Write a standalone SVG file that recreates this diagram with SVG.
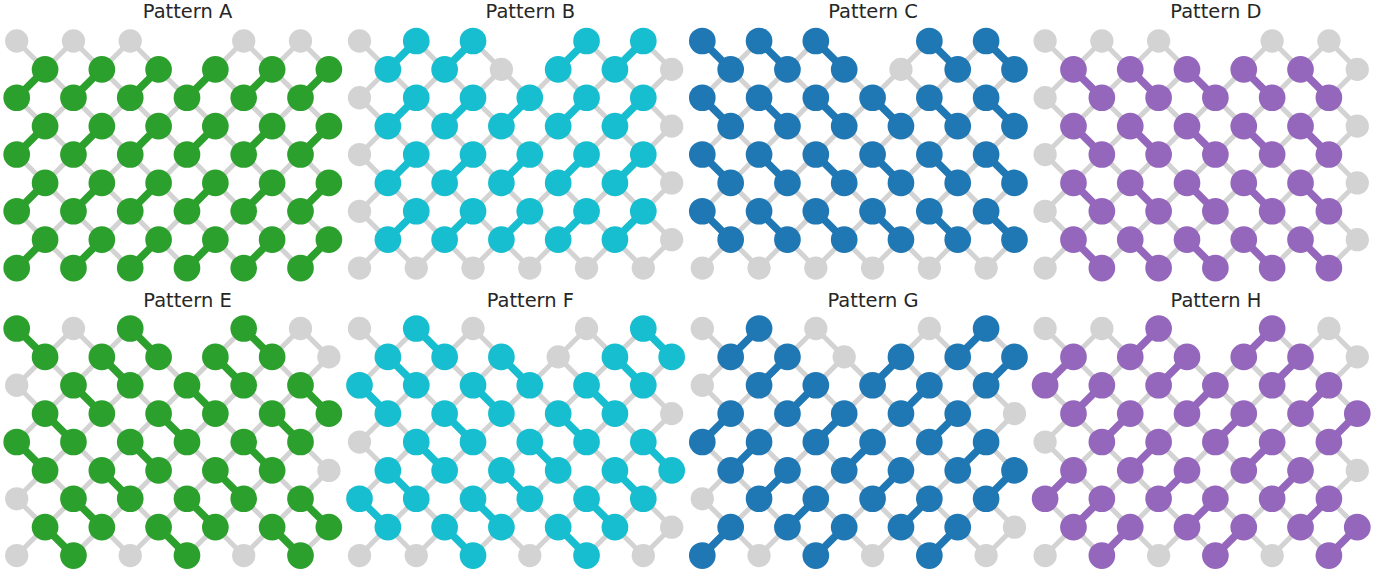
<svg xmlns="http://www.w3.org/2000/svg" width="1396" height="579" viewBox="0 0 1396 579">
<style>
.t{font-family:"DejaVu Sans",sans-serif;font-size:19.44px;fill:#262626;text-anchor:middle}
.g{fill:none;stroke:#d3d3d3;stroke-width:.176}
.gn{fill:#d3d3d3}
.e{fill:none;stroke:currentColor;stroke-width:.264}
.n{fill:currentColor}
.green{color:#2ca02c}.cyan{color:#17becf}.blue{color:#1f77b4}.purple{color:#9467bd}
</style>
<defs>
<g id="lattice">
<path class="g" d="M0 6L2 8M0 4L4 8M0 2L6 8M0 0L8 8M2 0L10 8M4 0L11 7M7 1L11 5M8 0L11 3M10 0L11 1M0 2L2 0M0 4L4 0M0 6L5 1M0 8L8 0M2 8L10 0M4 8L11 1M6 8L11 3M8 8L11 5M10 8L11 7"/>
<g class="gn">
<circle cx="0" cy="0" r=".41"/><circle cx="2" cy="0" r=".41"/><circle cx="4" cy="0" r=".41"/><circle cx="8" cy="0" r=".41"/><circle cx="10" cy="0" r=".41"/>
<circle cx="1" cy="1" r=".41"/><circle cx="3" cy="1" r=".41"/><circle cx="5" cy="1" r=".41"/><circle cx="7" cy="1" r=".41"/><circle cx="9" cy="1" r=".41"/><circle cx="11" cy="1" r=".41"/>
<circle cx="0" cy="2" r=".41"/><circle cx="2" cy="2" r=".41"/><circle cx="4" cy="2" r=".41"/><circle cx="6" cy="2" r=".41"/><circle cx="8" cy="2" r=".41"/><circle cx="10" cy="2" r=".41"/>
<circle cx="1" cy="3" r=".41"/><circle cx="3" cy="3" r=".41"/><circle cx="5" cy="3" r=".41"/><circle cx="7" cy="3" r=".41"/><circle cx="9" cy="3" r=".41"/><circle cx="11" cy="3" r=".41"/>
<circle cx="0" cy="4" r=".41"/><circle cx="2" cy="4" r=".41"/><circle cx="4" cy="4" r=".41"/><circle cx="6" cy="4" r=".41"/><circle cx="8" cy="4" r=".41"/><circle cx="10" cy="4" r=".41"/>
<circle cx="1" cy="5" r=".41"/><circle cx="3" cy="5" r=".41"/><circle cx="5" cy="5" r=".41"/><circle cx="7" cy="5" r=".41"/><circle cx="9" cy="5" r=".41"/><circle cx="11" cy="5" r=".41"/>
<circle cx="0" cy="6" r=".41"/><circle cx="2" cy="6" r=".41"/><circle cx="4" cy="6" r=".41"/><circle cx="6" cy="6" r=".41"/><circle cx="8" cy="6" r=".41"/><circle cx="10" cy="6" r=".41"/>
<circle cx="1" cy="7" r=".41"/><circle cx="3" cy="7" r=".41"/><circle cx="5" cy="7" r=".41"/><circle cx="7" cy="7" r=".41"/><circle cx="9" cy="7" r=".41"/><circle cx="11" cy="7" r=".41"/>
<circle cx="0" cy="8" r=".41"/><circle cx="2" cy="8" r=".41"/><circle cx="4" cy="8" r=".41"/><circle cx="6" cy="8" r=".41"/><circle cx="8" cy="8" r=".41"/><circle cx="10" cy="8" r=".41"/>
</g>
</g>
<circle id="n" r=".47"/>
</defs>

<g id="pattern-a" class="green">
<text class="t" x="187.5" y="18.4">Pattern A</text>
<g transform="translate(16.7,41) scale(28.38)">
<use href="#lattice"/>
<g id="a-connectors" class="e"><path d="M0 2l1-1M2 2l1-1M4 2l1-1M6 2l1-1M8 2l1-1M10 2l1-1M0 4l1-1M2 4l1-1M4 4l1-1M6 4l1-1M8 4l1-1M10 4l1-1M0 6l1-1M2 6l1-1M4 6l1-1M6 6l1-1M8 6l1-1M10 6l1-1M0 8l1-1M2 8l1-1M4 8l1-1M6 8l1-1M8 8l1-1M10 8l1-1"/></g>
<g id="a-nodes" class="n">
<use href="#n" x="1" y="1"/><use href="#n" x="3" y="1"/><use href="#n" x="5" y="1"/><use href="#n" x="7" y="1"/><use href="#n" x="9" y="1"/><use href="#n" x="11" y="1"/>
<use href="#n" x="0" y="2"/><use href="#n" x="2" y="2"/><use href="#n" x="4" y="2"/><use href="#n" x="6" y="2"/><use href="#n" x="8" y="2"/><use href="#n" x="10" y="2"/>
<use href="#n" x="1" y="3"/><use href="#n" x="3" y="3"/><use href="#n" x="5" y="3"/><use href="#n" x="7" y="3"/><use href="#n" x="9" y="3"/><use href="#n" x="11" y="3"/>
<use href="#n" x="0" y="4"/><use href="#n" x="2" y="4"/><use href="#n" x="4" y="4"/><use href="#n" x="6" y="4"/><use href="#n" x="8" y="4"/><use href="#n" x="10" y="4"/>
<use href="#n" x="1" y="5"/><use href="#n" x="3" y="5"/><use href="#n" x="5" y="5"/><use href="#n" x="7" y="5"/><use href="#n" x="9" y="5"/><use href="#n" x="11" y="5"/>
<use href="#n" x="0" y="6"/><use href="#n" x="2" y="6"/><use href="#n" x="4" y="6"/><use href="#n" x="6" y="6"/><use href="#n" x="8" y="6"/><use href="#n" x="10" y="6"/>
<use href="#n" x="1" y="7"/><use href="#n" x="3" y="7"/><use href="#n" x="5" y="7"/><use href="#n" x="7" y="7"/><use href="#n" x="9" y="7"/><use href="#n" x="11" y="7"/>
<use href="#n" x="0" y="8"/><use href="#n" x="2" y="8"/><use href="#n" x="4" y="8"/><use href="#n" x="6" y="8"/><use href="#n" x="8" y="8"/><use href="#n" x="10" y="8"/>
</g>
</g>
</g>

<g id="pattern-b" class="cyan">
<text class="t" x="530.3" y="18.4">Pattern B</text>
<g transform="translate(359.5,41) scale(28.38)">
<use href="#lattice"/>
<g id="b-connectors" class="e"><path d="M1 1l1-1M3 1l1-1M7 1l1-1M9 1l1-1M1 3l1-1M3 3l1-1M5 3l1-1M7 3l1-1M9 3l1-1M1 5l1-1M3 5l1-1M5 5l1-1M7 5l1-1M9 5l1-1M1 7l1-1M3 7l1-1M5 7l1-1M7 7l1-1M9 7l1-1"/></g>
<g id="b-nodes" class="n">
<use href="#n" x="2" y="0"/><use href="#n" x="4" y="0"/><use href="#n" x="8" y="0"/><use href="#n" x="10" y="0"/>
<use href="#n" x="1" y="1"/><use href="#n" x="3" y="1"/><use href="#n" x="7" y="1"/><use href="#n" x="9" y="1"/>
<use href="#n" x="2" y="2"/><use href="#n" x="4" y="2"/><use href="#n" x="6" y="2"/><use href="#n" x="8" y="2"/><use href="#n" x="10" y="2"/>
<use href="#n" x="1" y="3"/><use href="#n" x="3" y="3"/><use href="#n" x="5" y="3"/><use href="#n" x="7" y="3"/><use href="#n" x="9" y="3"/>
<use href="#n" x="2" y="4"/><use href="#n" x="4" y="4"/><use href="#n" x="6" y="4"/><use href="#n" x="8" y="4"/><use href="#n" x="10" y="4"/>
<use href="#n" x="1" y="5"/><use href="#n" x="3" y="5"/><use href="#n" x="5" y="5"/><use href="#n" x="7" y="5"/><use href="#n" x="9" y="5"/>
<use href="#n" x="2" y="6"/><use href="#n" x="4" y="6"/><use href="#n" x="6" y="6"/><use href="#n" x="8" y="6"/><use href="#n" x="10" y="6"/>
<use href="#n" x="1" y="7"/><use href="#n" x="3" y="7"/><use href="#n" x="5" y="7"/><use href="#n" x="7" y="7"/><use href="#n" x="9" y="7"/>
</g>
</g>
</g>

<g id="pattern-c" class="blue">
<text class="t" x="873.1" y="18.4">Pattern C</text>
<g transform="translate(702.3,41) scale(28.38)">
<use href="#lattice"/>
<g id="c-connectors" class="e"><path d="M0 0l1 1M2 0l1 1M4 0l1 1M8 0l1 1M10 0l1 1M0 2l1 1M2 2l1 1M4 2l1 1M6 2l1 1M8 2l1 1M10 2l1 1M0 4l1 1M2 4l1 1M4 4l1 1M6 4l1 1M8 4l1 1M10 4l1 1M0 6l1 1M2 6l1 1M4 6l1 1M6 6l1 1M8 6l1 1M10 6l1 1"/></g>
<g id="c-nodes" class="n">
<use href="#n" x="0" y="0"/><use href="#n" x="2" y="0"/><use href="#n" x="4" y="0"/><use href="#n" x="8" y="0"/><use href="#n" x="10" y="0"/>
<use href="#n" x="1" y="1"/><use href="#n" x="3" y="1"/><use href="#n" x="5" y="1"/><use href="#n" x="9" y="1"/><use href="#n" x="11" y="1"/>
<use href="#n" x="0" y="2"/><use href="#n" x="2" y="2"/><use href="#n" x="4" y="2"/><use href="#n" x="6" y="2"/><use href="#n" x="8" y="2"/><use href="#n" x="10" y="2"/>
<use href="#n" x="1" y="3"/><use href="#n" x="3" y="3"/><use href="#n" x="5" y="3"/><use href="#n" x="7" y="3"/><use href="#n" x="9" y="3"/><use href="#n" x="11" y="3"/>
<use href="#n" x="0" y="4"/><use href="#n" x="2" y="4"/><use href="#n" x="4" y="4"/><use href="#n" x="6" y="4"/><use href="#n" x="8" y="4"/><use href="#n" x="10" y="4"/>
<use href="#n" x="1" y="5"/><use href="#n" x="3" y="5"/><use href="#n" x="5" y="5"/><use href="#n" x="7" y="5"/><use href="#n" x="9" y="5"/><use href="#n" x="11" y="5"/>
<use href="#n" x="0" y="6"/><use href="#n" x="2" y="6"/><use href="#n" x="4" y="6"/><use href="#n" x="6" y="6"/><use href="#n" x="8" y="6"/><use href="#n" x="10" y="6"/>
<use href="#n" x="1" y="7"/><use href="#n" x="3" y="7"/><use href="#n" x="5" y="7"/><use href="#n" x="7" y="7"/><use href="#n" x="9" y="7"/><use href="#n" x="11" y="7"/>
</g>
</g>
</g>

<g id="pattern-d" class="purple">
<text class="t" x="1215.9" y="18.4">Pattern D</text>
<g transform="translate(1045.1,41) scale(28.38)">
<use href="#lattice"/>
<g id="d-connectors" class="e"><path d="M1 1l1 1M3 1l1 1M5 1l1 1M7 1l1 1M9 1l1 1M1 3l1 1M3 3l1 1M5 3l1 1M7 3l1 1M9 3l1 1M1 5l1 1M3 5l1 1M5 5l1 1M7 5l1 1M9 5l1 1M1 7l1 1M3 7l1 1M5 7l1 1M7 7l1 1M9 7l1 1"/></g>
<g id="d-nodes" class="n">
<use href="#n" x="1" y="1"/><use href="#n" x="3" y="1"/><use href="#n" x="5" y="1"/><use href="#n" x="7" y="1"/><use href="#n" x="9" y="1"/>
<use href="#n" x="2" y="2"/><use href="#n" x="4" y="2"/><use href="#n" x="6" y="2"/><use href="#n" x="8" y="2"/><use href="#n" x="10" y="2"/>
<use href="#n" x="1" y="3"/><use href="#n" x="3" y="3"/><use href="#n" x="5" y="3"/><use href="#n" x="7" y="3"/><use href="#n" x="9" y="3"/>
<use href="#n" x="2" y="4"/><use href="#n" x="4" y="4"/><use href="#n" x="6" y="4"/><use href="#n" x="8" y="4"/><use href="#n" x="10" y="4"/>
<use href="#n" x="1" y="5"/><use href="#n" x="3" y="5"/><use href="#n" x="5" y="5"/><use href="#n" x="7" y="5"/><use href="#n" x="9" y="5"/>
<use href="#n" x="2" y="6"/><use href="#n" x="4" y="6"/><use href="#n" x="6" y="6"/><use href="#n" x="8" y="6"/><use href="#n" x="10" y="6"/>
<use href="#n" x="1" y="7"/><use href="#n" x="3" y="7"/><use href="#n" x="5" y="7"/><use href="#n" x="7" y="7"/><use href="#n" x="9" y="7"/>
<use href="#n" x="2" y="8"/><use href="#n" x="4" y="8"/><use href="#n" x="6" y="8"/><use href="#n" x="8" y="8"/><use href="#n" x="10" y="8"/>
</g>
</g>
</g>

<g id="pattern-e" class="green">
<text class="t" x="187.5" y="306.5">Pattern E</text>
<g transform="translate(16.7,328.5) scale(28.38)">
<use href="#lattice"/>
<g id="e-connectors" class="e"><path d="M0 0l1 1M4 0l1 1M8 0l1 1M3 1l1 1M7 1l1 1M2 2l1 1M6 2l1 1M10 2l1 1M1 3l1 1M5 3l1 1M9 3l1 1M0 4l1 1M4 4l1 1M8 4l1 1M3 5l1 1M7 5l1 1M2 6l1 1M6 6l1 1M10 6l1 1M1 7l1 1M5 7l1 1M9 7l1 1"/></g>
<g id="e-nodes" class="n">
<use href="#n" x="0" y="0"/><use href="#n" x="4" y="0"/><use href="#n" x="8" y="0"/>
<use href="#n" x="1" y="1"/><use href="#n" x="3" y="1"/><use href="#n" x="5" y="1"/><use href="#n" x="7" y="1"/><use href="#n" x="9" y="1"/>
<use href="#n" x="2" y="2"/><use href="#n" x="4" y="2"/><use href="#n" x="6" y="2"/><use href="#n" x="8" y="2"/><use href="#n" x="10" y="2"/>
<use href="#n" x="1" y="3"/><use href="#n" x="3" y="3"/><use href="#n" x="5" y="3"/><use href="#n" x="7" y="3"/><use href="#n" x="9" y="3"/><use href="#n" x="11" y="3"/>
<use href="#n" x="0" y="4"/><use href="#n" x="2" y="4"/><use href="#n" x="4" y="4"/><use href="#n" x="6" y="4"/><use href="#n" x="8" y="4"/><use href="#n" x="10" y="4"/>
<use href="#n" x="1" y="5"/><use href="#n" x="3" y="5"/><use href="#n" x="5" y="5"/><use href="#n" x="7" y="5"/><use href="#n" x="9" y="5"/>
<use href="#n" x="2" y="6"/><use href="#n" x="4" y="6"/><use href="#n" x="6" y="6"/><use href="#n" x="8" y="6"/><use href="#n" x="10" y="6"/>
<use href="#n" x="1" y="7"/><use href="#n" x="3" y="7"/><use href="#n" x="5" y="7"/><use href="#n" x="7" y="7"/><use href="#n" x="9" y="7"/><use href="#n" x="11" y="7"/>
<use href="#n" x="2" y="8"/><use href="#n" x="6" y="8"/><use href="#n" x="10" y="8"/>
</g>
</g>
</g>

<g id="pattern-f" class="cyan">
<text class="t" x="530.3" y="306.5">Pattern F</text>
<g transform="translate(359.5,328.5) scale(28.38)">
<use href="#lattice"/>
<g id="f-connectors" class="e"><path d="M2 0l1 1M10 0l1 1M1 1l1 1M5 1l1 1M9 1l1 1M0 2l1 1M4 2l1 1M8 2l1 1M3 3l1 1M7 3l1 1M2 4l1 1M6 4l1 1M10 4l1 1M1 5l1 1M5 5l1 1M9 5l1 1M0 6l1 1M4 6l1 1M8 6l1 1M3 7l1 1M7 7l1 1"/></g>
<g id="f-nodes" class="n">
<use href="#n" x="2" y="0"/><use href="#n" x="10" y="0"/>
<use href="#n" x="1" y="1"/><use href="#n" x="3" y="1"/><use href="#n" x="5" y="1"/><use href="#n" x="9" y="1"/><use href="#n" x="11" y="1"/>
<use href="#n" x="0" y="2"/><use href="#n" x="2" y="2"/><use href="#n" x="4" y="2"/><use href="#n" x="6" y="2"/><use href="#n" x="8" y="2"/><use href="#n" x="10" y="2"/>
<use href="#n" x="1" y="3"/><use href="#n" x="3" y="3"/><use href="#n" x="5" y="3"/><use href="#n" x="7" y="3"/><use href="#n" x="9" y="3"/>
<use href="#n" x="2" y="4"/><use href="#n" x="4" y="4"/><use href="#n" x="6" y="4"/><use href="#n" x="8" y="4"/><use href="#n" x="10" y="4"/>
<use href="#n" x="1" y="5"/><use href="#n" x="3" y="5"/><use href="#n" x="5" y="5"/><use href="#n" x="7" y="5"/><use href="#n" x="9" y="5"/><use href="#n" x="11" y="5"/>
<use href="#n" x="0" y="6"/><use href="#n" x="2" y="6"/><use href="#n" x="4" y="6"/><use href="#n" x="6" y="6"/><use href="#n" x="8" y="6"/><use href="#n" x="10" y="6"/>
<use href="#n" x="1" y="7"/><use href="#n" x="3" y="7"/><use href="#n" x="5" y="7"/><use href="#n" x="7" y="7"/><use href="#n" x="9" y="7"/>
<use href="#n" x="4" y="8"/><use href="#n" x="8" y="8"/>
</g>
</g>
</g>

<g id="pattern-g" class="blue">
<text class="t" x="873.1" y="306.5">Pattern G</text>
<g transform="translate(702.3,328.5) scale(28.38)">
<use href="#lattice"/>
<g id="g-connectors" class="e"><path d="M1 1l1-1M9 1l1-1M2 2l1-1M6 2l1-1M10 2l1-1M3 3l1-1M7 3l1-1M0 4l1-1M4 4l1-1M8 4l1-1M1 5l1-1M5 5l1-1M9 5l1-1M2 6l1-1M6 6l1-1M10 6l1-1M3 7l1-1M7 7l1-1M0 8l1-1M4 8l1-1M8 8l1-1"/></g>
<g id="g-nodes" class="n">
<use href="#n" x="2" y="0"/><use href="#n" x="10" y="0"/>
<use href="#n" x="1" y="1"/><use href="#n" x="3" y="1"/><use href="#n" x="7" y="1"/><use href="#n" x="9" y="1"/><use href="#n" x="11" y="1"/>
<use href="#n" x="2" y="2"/><use href="#n" x="4" y="2"/><use href="#n" x="6" y="2"/><use href="#n" x="8" y="2"/><use href="#n" x="10" y="2"/>
<use href="#n" x="1" y="3"/><use href="#n" x="3" y="3"/><use href="#n" x="5" y="3"/><use href="#n" x="7" y="3"/><use href="#n" x="9" y="3"/>
<use href="#n" x="0" y="4"/><use href="#n" x="2" y="4"/><use href="#n" x="4" y="4"/><use href="#n" x="6" y="4"/><use href="#n" x="8" y="4"/><use href="#n" x="10" y="4"/>
<use href="#n" x="1" y="5"/><use href="#n" x="3" y="5"/><use href="#n" x="5" y="5"/><use href="#n" x="7" y="5"/><use href="#n" x="9" y="5"/><use href="#n" x="11" y="5"/>
<use href="#n" x="2" y="6"/><use href="#n" x="4" y="6"/><use href="#n" x="6" y="6"/><use href="#n" x="8" y="6"/><use href="#n" x="10" y="6"/>
<use href="#n" x="1" y="7"/><use href="#n" x="3" y="7"/><use href="#n" x="5" y="7"/><use href="#n" x="7" y="7"/><use href="#n" x="9" y="7"/>
<use href="#n" x="0" y="8"/><use href="#n" x="4" y="8"/><use href="#n" x="8" y="8"/>
</g>
</g>
</g>

<g id="pattern-h" class="purple">
<text class="t" x="1215.9" y="306.5">Pattern H</text>
<g transform="translate(1045.1,328.5) scale(28.38)">
<use href="#lattice"/>
<g id="h-connectors" class="e"><path d="M3 1l1-1M7 1l1-1M0 2l1-1M4 2l1-1M8 2l1-1M1 3l1-1M5 3l1-1M9 3l1-1M2 4l1-1M6 4l1-1M10 4l1-1M3 5l1-1M7 5l1-1M0 6l1-1M4 6l1-1M8 6l1-1M1 7l1-1M5 7l1-1M9 7l1-1M2 8l1-1M6 8l1-1M10 8l1-1"/></g>
<g id="h-nodes" class="n">
<use href="#n" x="4" y="0"/><use href="#n" x="8" y="0"/>
<use href="#n" x="1" y="1"/><use href="#n" x="3" y="1"/><use href="#n" x="5" y="1"/><use href="#n" x="7" y="1"/><use href="#n" x="9" y="1"/>
<use href="#n" x="0" y="2"/><use href="#n" x="2" y="2"/><use href="#n" x="4" y="2"/><use href="#n" x="6" y="2"/><use href="#n" x="8" y="2"/><use href="#n" x="10" y="2"/>
<use href="#n" x="1" y="3"/><use href="#n" x="3" y="3"/><use href="#n" x="5" y="3"/><use href="#n" x="7" y="3"/><use href="#n" x="9" y="3"/><use href="#n" x="11" y="3"/>
<use href="#n" x="2" y="4"/><use href="#n" x="4" y="4"/><use href="#n" x="6" y="4"/><use href="#n" x="8" y="4"/><use href="#n" x="10" y="4"/>
<use href="#n" x="1" y="5"/><use href="#n" x="3" y="5"/><use href="#n" x="5" y="5"/><use href="#n" x="7" y="5"/><use href="#n" x="9" y="5"/>
<use href="#n" x="0" y="6"/><use href="#n" x="2" y="6"/><use href="#n" x="4" y="6"/><use href="#n" x="6" y="6"/><use href="#n" x="8" y="6"/><use href="#n" x="10" y="6"/>
<use href="#n" x="1" y="7"/><use href="#n" x="3" y="7"/><use href="#n" x="5" y="7"/><use href="#n" x="7" y="7"/><use href="#n" x="9" y="7"/><use href="#n" x="11" y="7"/>
<use href="#n" x="2" y="8"/><use href="#n" x="6" y="8"/><use href="#n" x="10" y="8"/>
</g>
</g>
</g>
</svg>
